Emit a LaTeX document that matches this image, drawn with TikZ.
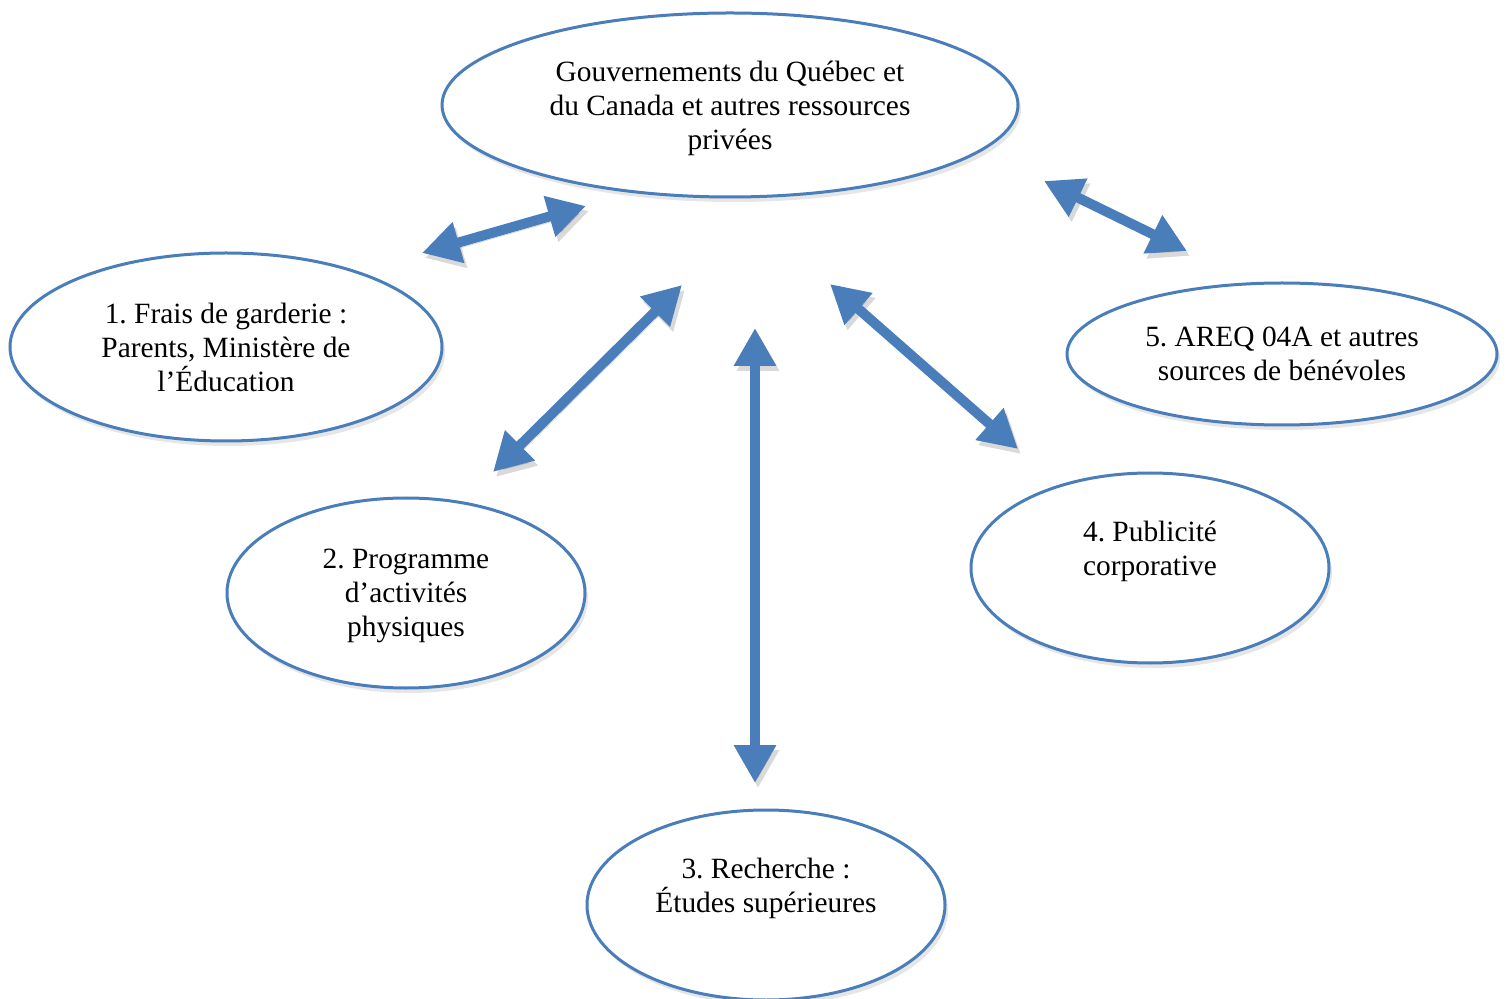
\documentclass[tikz,border=0pt]{standalone}
\usepackage{fontspec}
\setmainfont{Liberation Serif}
\frenchspacing
\usepackage{tikz}
\usetikzlibrary{shapes}
\usetikzlibrary{arrows.meta}
\usetikzlibrary{shadows}
\definecolor{bleu}{HTML}{4A7EBB}
\tikzset{oval/.style={ellipse, draw=bleu, line width=1.5pt, fill=white, inner sep=0pt,
    drop shadow={shadow xshift=1.5pt, shadow yshift=-2.5pt, opacity=0.2}}}
\tikzset{txt/.style={align=center, font=\fontsize{14.7pt}{17pt}\selectfont}}
\tikzset{fleche/.style={draw=bleu, line width=5pt,
    {Triangle[length=19pt, width=20pt]}-{Triangle[length=19pt, width=20pt]},
    preaction={draw=black, opacity=0.15, transform canvas={shift={(1.5pt,-2.5pt)}}}}}

\begin{document}
\begin{tikzpicture}[x=0.5pt, y=-0.5pt]

    \useasboundingbox (0,0) rectangle (1509,999);

    % Centre.
    \node [oval, minimum width=288pt, minimum height=92pt,
        label={[txt, yshift=-1.5pt]center:Gouvernements du Québec et\\du Canada et autres ressources\\privées}] (gouv) at (730,105) {};

    % Partners.
    \node [oval, txt, minimum width=216pt, minimum height=94pt] (frais) at (226,347)
        {1. Frais de garderie :\\Parents, Ministère de\\l’Éducation};
    \node [oval, minimum width=179pt, minimum height=95pt,
        label={[txt, yshift=-1.5pt]center:2. Programme\\d’activités\\physiques}] (prog) at (406,593) {};
    \node [oval, minimum width=179pt, minimum height=95pt,
        label={[txt, yshift=8.5pt]center:3. Recherche :\\Études supérieures}] (rech) at (766,905) {};
    \node [oval, minimum width=179pt, minimum height=95pt,
        label={[txt, yshift=8.5pt]center:4. Publicité\\corporative}] (pub) at (1150,568) {};
    \node [oval, txt, minimum width=215pt, minimum height=71pt] (areq) at (1282,354)
        {5. AREQ 04A et autres\\sources de bénévoles};

    % Arrow ends.
    \coordinate (f1a) at (422,253);
    \coordinate (f1b) at (586,206);
    \coordinate (f2a) at (493,472);
    \coordinate (f2b) at (682,285);
    \coordinate (f3a) at (755,328);
    \coordinate (f3b) at (755,783);
    \coordinate (f4a) at (830,284);
    \coordinate (f4b) at (1018,449);
    \coordinate (f5a) at (1044,181);
    \coordinate (f5b) at (1187,251);

    % Double arrows.
    \draw [fleche] (f1a) -- (f1b);
    \draw [fleche] (f2a) -- (f2b);
    \draw [fleche] (f3a) -- (f3b);
    \draw [fleche] (f4a) -- (f4b);
    \draw [fleche] (f5a) -- (f5b);

\end{tikzpicture}
\end{document}
